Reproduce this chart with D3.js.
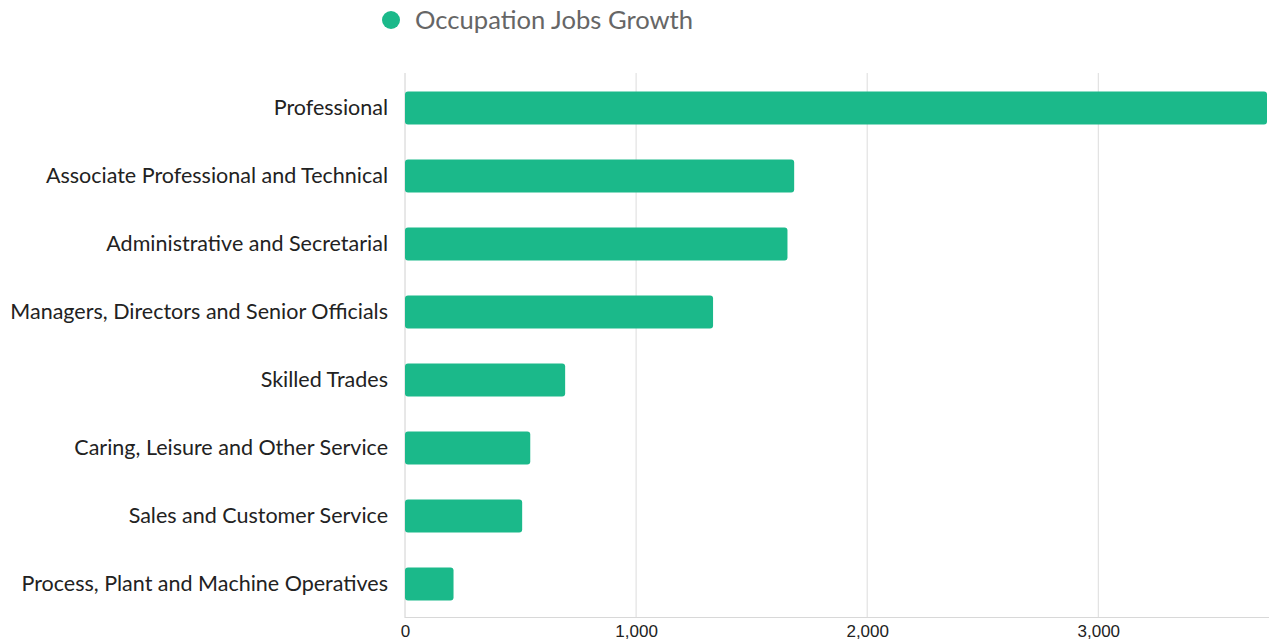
<!DOCTYPE html>
<html><head><meta charset="utf-8">
<script src="https://cdn.jsdelivr.net/npm/d3@7"></script>
<style>body{margin:0;background:#fff}</style>
</head><body>
<svg id="c" width="1282" height="640"></svg>
<script>
const categories = ["Professional","Associate Professional and Technical","Administrative and Secretarial","Managers, Directors and Senior Officials","Skilled Trades","Caring, Leisure and Other Service","Sales and Customer Service","Process, Plant and Machine Operatives"];
const values = [3730, 1684, 1655, 1333, 693, 542, 507, 210];
const tickValues = [0, 1000, 2000, 3000];
const seriesName = "Occupation Jobs Growth";

const svg = d3.select("#c");
const pLeft = 405, pRight = 1267, pTop = 74, pBottom = 618;
const x = d3.scaleLinear().domain([0, 3730]).range([pLeft, pRight]);
const y = d3.scaleBand().domain(categories).range([pTop, pBottom]).paddingInner(0.515).paddingOuter(0.2575);
const color = "#1bb98a";

// gridlines
svg.append("g").selectAll("line").data(tickValues.slice(1)).join("line")
  .attr("x1", d => x(d)).attr("x2", d => x(d)).attr("y1", pTop - 1).attr("y2", pBottom)
  .attr("stroke", "#dcdcdc").attr("stroke-width", 1);
// left axis line
svg.append("line").attr("x1", pLeft).attr("x2", pLeft).attr("y1", pTop - 1).attr("y2", pBottom)
  .attr("stroke", "#d0d0d0");
// bottom axis
const xAxis = d3.axisBottom(x).tickValues(tickValues).tickFormat(d3.format(",")).tickSize(0).tickPadding(8);
const gx = svg.append("g").attr("transform", `translate(0,${pBottom - 1})`).call(xAxis);
gx.select(".domain").attr("stroke", "#d8d8d8").attr("d", `M${pLeft},0.5H${pRight + 2}`);
gx.selectAll("text").attr("font-family", "Liberation Sans, Arial, sans-serif").attr("font-size", 17).attr("fill", "#222");

// bars
svg.append("g").selectAll("rect").data(categories).join("rect")
  .attr("x", x(0)).attr("y", d => y(d))
  .attr("width", (d, i) => x(values[i]) - x(0)).attr("height", y.bandwidth())
  .attr("rx", 3).attr("fill", color);

// y labels
const yAxis = d3.axisLeft(y).tickSize(0).tickPadding(17);
const gy = svg.append("g").attr("transform", `translate(${pLeft},0)`).call(yAxis);
gy.select(".domain").remove();
gy.selectAll("text").attr("font-family", "Lato, sans-serif").attr("font-size", 21.5).attr("fill", "#222");

// legend
const lg = svg.append("g");
lg.append("circle").attr("cx", 391).attr("cy", 20).attr("r", 9).attr("fill", color);
lg.append("text").attr("x", 415).attr("y", 29).text(seriesName)
  .attr("font-family", "Lato, sans-serif").attr("font-size", 25.6).attr("fill", "#666");
</script>
</body></html>
